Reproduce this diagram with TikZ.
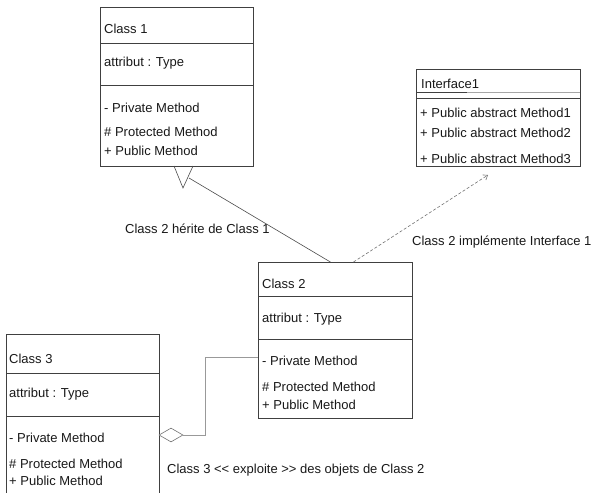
\documentclass[tikz,border=0pt]{standalone}
\usepackage{fontspec}
\setmainfont{Liberation Sans}
\usetikzlibrary{calc,shapes.geometric,arrows.meta}
\begin{document}
\begin{tikzpicture}[x=1pt,y=-1pt,
  classbox/.style={draw=black!75,line width=0.8pt,fill=white,inner sep=0pt,outer sep=0pt,anchor=north west},
  sepline/.style={draw=black!75,line width=0.8pt},
  lightsep/.style={draw=black!35,line width=0.7pt},
  txt/.style={inner sep=0pt,anchor=base west,font=\fontsize{13}{15}\selectfont,text=black!90},
  inherit/.style={draw=black!70,line width=0.6pt},
  realize/.style={draw=black!55,line width=0.6pt,dash pattern=on 3pt off 2pt},
  aggline/.style={draw=black!40,line width=0.7pt},
  aggdiamond/.style={diamond,draw=black!55,line width=0.6pt,fill=white,inner sep=0pt,minimum width=24pt,minimum height=14pt}
]
\useasboundingbox (0,0) rectangle (595,493);
\fill[white] (0,0) rectangle (595,493);

% Class 1
\node[classbox,minimum width=153pt,minimum height=159pt] (c1) at (100,7) {};
\draw[sepline] ($(c1.north west)+(0,36)$) -- ($(c1.north east)+(0,36)$);
\draw[sepline] ($(c1.north west)+(0,78)$) -- ($(c1.north east)+(0,78)$);
\node[txt] (c1n) at (104,33) {Class 1};
\node[txt] (c1a) at (104,66) {attribut : Type};
\node[txt] (c1m1) at (104,112) {- Private Method};
\node[txt] (c1m2) at (104,136) {\# Protected Method};
\node[txt] (c1m3) at (104,155) {+ Public Method};

% Interface 1
\node[classbox,minimum width=164pt,minimum height=97pt] (i1) at (416,69) {};
\draw[lightsep] ($(i1.north west)+(0,23)$) -- ($(i1.north east)+(0,23)$);
\draw[sepline] ($(i1.north west)+(0,23)$) -- ($(i1.north west)+(51,23)$);
\draw[sepline] ($(i1.north west)+(0,29)$) -- ($(i1.north east)+(0,29)$);
\node[txt] (i1n) at (421,88) {Interface1};
\node[txt] (i1m1) at (420,117) {+ Public abstract Method1};
\node[txt] (i1m2) at (420,137) {+ Public abstract Method2};
\node[txt] (i1m3) at (420,163) {+ Public abstract Method3};

% Class 2
\node[classbox,minimum width=154pt,minimum height=156pt] (c2) at (258,262) {};
\draw[sepline] ($(c2.north west)+(0,34)$) -- ($(c2.north east)+(0,34)$);
\draw[sepline] ($(c2.north west)+(0,77)$) -- ($(c2.north east)+(0,77)$);
\node[txt] (c2n) at (262,288) {Class 2};
\node[txt] (c2a) at (262,322) {attribut : Type};
\node[txt] (c2m1) at (262,365) {- Private Method};
\node[txt] (c2m2) at (262,391) {\# Protected Method};
\node[txt] (c2m3) at (262,409) {+ Public Method};

% Class 3
\node[classbox,minimum width=153pt,minimum height=162pt] (c3) at (6,334) {};
\draw[sepline] ($(c3.north west)+(0,39)$) -- ($(c3.north east)+(0,39)$);
\draw[sepline] ($(c3.north west)+(0,82)$) -- ($(c3.north east)+(0,82)$);
\node[txt] (c3n) at (9,363) {Class 3};
\node[txt] (c3a) at (9,397) {attribut : Type};
\node[txt] (c3m1) at (9,442) {- Private Method};
\node[txt] (c3m2) at (9,468) {\# Protected Method};
\node[txt] (c3m3) at (9,485) {+ Public Method};

% Inheritance: Class 2 -> Class 1
\coordinate (triL) at (174,166);
\coordinate (triA) at (183,188);
\coordinate (triR) at (193,166);
\coordinate (ihs) at (189,178);
\draw[inherit] (triL) -- (triA) -- (triR);
\draw[inherit] (ihs) -- ($(c2.north west)!0.47!(c2.north east)$);
\node[txt] (lbl1) at (125,233) {Class 2 hérite de Class 1};

% Realization: Class 2 -> Interface1
\coordinate (iarr) at (488,175);
\draw[realize,-{Straight Barb[length=4pt,width=6pt]}] ($(c2.north west)!0.62!(c2.north east)$) -- (iarr);
\node[txt] (lbl2) at (412,245) {Class 2 implémente Interface 1};

% Aggregation: Class 3 <>-- Class 2
\node[aggdiamond] (agg) at (171,435) {};
\coordinate (elbow) at (205,357);
\coordinate (c2w) at ($(c2.north west)+(0,95)$);
\draw[aggline] (agg.east) -| (elbow) -- (c2w);
\node[txt] (lbl3) at (167,473) {Class 3 {<}{<} exploite {>}{>} des objets de Class 2};
\end{tikzpicture}
\end{document}
